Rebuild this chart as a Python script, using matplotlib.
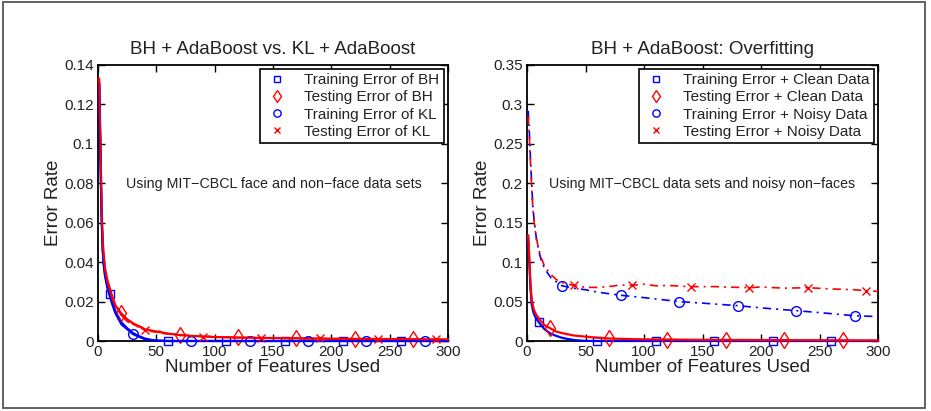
import matplotlib
matplotlib.use("Agg")
import matplotlib.pyplot as plt
from matplotlib.patches import Rectangle

plt.rcParams['font.family'] = ['Liberation Sans', 'DejaVu Sans']

# ---------------- Left panel data ----------------
left_title = "BH + AdaBoost vs. KL + AdaBoost"
left_note = "Using MIT\u2212CBCL face and non\u2212face data sets"
left_labels = ["Training Error of BH", "Testing Error of BH",
               "Training Error of KL", "Testing Error of KL"]

train_bh_x = [1, 2, 3, 4, 5, 6, 8, 10, 12, 15, 20, 25, 30, 35, 40, 45, 50, 60, 110, 160, 210, 260, 300]
train_bh_y = [.131, .098, .066, .047, .039, .034, .028, .024, .020, .015, .0095, .0065, .004, .0025,
              .0013, .0006, .0002, 0, 0, 0, 0, 0, 0]
train_bh_marks = [10, 60, 110, 160, 210, 260]

test_bh_x = [1, 2, 3, 4, 5, 6, 8, 10, 12, 15, 20, 25, 30, 35, 40, 50, 60, 70, 80, 100, 120, 150,
             170, 200, 220, 250, 270, 300]
test_bh_y = [.133, .104, .070, .051, .043, .037, .031, .027, .023, .018, .014, .011, .009, .0075,
             .006, .0048, .0038, .003, .0026, .002, .0018, .0015, .0014, .0012, .0011, .001, .0009, .0008]
test_bh_marks = [20, 70, 120, 170, 220, 270]

train_kl_x = [1, 2, 3, 4, 5, 6, 8, 10, 12, 15, 20, 25, 30, 35, 40, 45, 50, 60, 80, 130, 180, 230, 280, 300]
train_kl_y = [.130, .097, .064, .046, .038, .033, .027, .023, .019, .014, .0085, .006, .0035, .0022,
              .001, .0005, .0002, 0, 0, 0, 0, 0, 0, 0]
train_kl_marks = [30, 80, 130, 180, 230, 280]

test_kl_x = [1, 2, 3, 4, 5, 6, 8, 10, 12, 14, 16, 18, 20, 22, 24, 26, 28, 30, 32, 34,
             36, 38, 40, 43, 46, 50, 53, 56, 60, 65, 70, 75, 80, 85, 90, 95, 100, 110, 120, 130,
             140, 150, 160, 170, 180, 190, 200, 210, 220, 230, 240, 250, 260, 270, 280, 290, 300]
test_kl_y = [.133, .103, .069, .050, .042, .036, .030, .026, .022, .019,
             .017, .015, .013, .012, .0105, .0095, .010, .0085, .008, .0072,
             .0075, .0062, .0055, .0058, .0048, .0045, .0050, .0038, .0035, .0036,
             .0028, .0032, .0024, .0026, .0021, .0024, .0019, .0020, .0016, .0018,
             .0014, .0015, .0013, .0014, .0011, .0013, .0010, .0012, .0009, .0011,
             .0009, .0010, .0008, .0009, .0007, .0008, .0007]
test_kl_marks = [40, 90, 140, 190, 240, 290]

left_yticks = [0, 0.02, 0.04, 0.06, 0.08, 0.1, 0.12, 0.14]
left_yticklabels = ["0", "0.02", "0.04", "0.06", "0.08", "0.1", "0.12", "0.14"]

# ---------------- Right panel data ----------------
right_title = "BH + AdaBoost: Overfitting"
right_note = "Using MIT\u2212CBCL data sets and noisy non\u2212faces"
right_labels = ["Training Error + Clean Data", "Testing Error + Clean Data",
                "Training Error + Noisy Data", "Testing Error + Noisy Data"]

train_clean_x = [1, 2, 3, 4, 5, 6, 8, 10, 12, 15, 20, 25, 30, 35, 40, 45, 50, 60, 110, 160, 210, 260, 300]
train_clean_y = [.131, .098, .066, .047, .039, .034, .028, .024, .020, .015, .0095, .0065, .004, .0025,
                 .0013, .0006, .0002, 0, 0, 0, 0, 0, 0]
train_clean_marks = [10, 60, 110, 160, 210, 260]

test_clean_x = [1, 2, 3, 4, 5, 6, 8, 10, 12, 15, 20, 25, 30, 35, 40, 50, 60, 70, 80, 100, 120, 150,
                170, 200, 220, 250, 270, 300]
test_clean_y = [.134, .106, .072, .053, .045, .039, .033, .029, .025, .020, .016, .012, .010, .0085,
                .007, .0055, .0042, .0032, .0027, .0021, .0018, .0015, .0014, .0012, .0011, .001, .0009, .0008]
test_clean_marks = [20, 70, 120, 170, 220, 270]

train_noisy_x = [1, 2, 3, 4, 5, 6, 8, 10, 12, 15, 20, 25, 30, 40, 50, 60, 70, 80, 100, 130, 150,
                 180, 200, 230, 250, 280, 300]
train_noisy_y = [.292, .265, .23, .20, .17, .155, .13, .115, .103, .092, .081, .075, .070, .067, .065,
                 .062, .060, .058, .055, .050, .048, .0448, .042, .0385, .036, .032, .031]
train_noisy_marks = [30, 80, 130, 180, 230, 280]

test_noisy_x = [1, 2, 3, 4, 5, 6, 8, 10, 12, 15, 20, 25, 30, 35, 40, 50, 60, 70, 80, 90,
                100, 110, 120, 140, 160, 180, 190, 200, 220, 240, 260, 280, 290, 300]
test_noisy_y = [.285, .26, .225, .195, .168, .152, .13, .117, .106, .095,
                .085, .078, .074, .072, .0705, .068, .068, .069, .071, .0706,
                .072, .070, .0705, .0689, .069, .068, .0676, .0685, .067, .0676,
                .066, .065, .0638, .063]
test_noisy_marks = [40, 90, 140, 190, 240, 290]

right_yticks = [0, 0.05, 0.1, 0.15, 0.2, 0.25, 0.3, 0.35]
right_yticklabels = ["0", "0.05", "0.1", "0.15", "0.2", "0.25", "0.3", "0.35"]

xticks = [0, 50, 100, 150, 200, 250, 300]
xlabel = "Number of Features Used"
ylabel = "Error Rate"

BLUE = "#0000ff"
RED = "#ff0000"
TXT = "#222222"

W, H = 931, 411
fig = plt.figure(figsize=(W / 100, H / 100), dpi=100)
fig.patch.set_facecolor("white")

# outer frame
fig.add_artist(Rectangle((3 / W, 3 / H), 922 / W, 406 / H, transform=fig.transFigure,
                         fill=False, edgecolor="#555555", linewidth=1.3))

ax1 = fig.add_axes([98 / W, 1 - 341 / H, 350 / W, 276 / H])
ax2 = fig.add_axes([527 / W, 1 - 341 / H, 351 / W, 276 / H])


def idx(xs, marks):
    return [xs.index(m) for m in marks]


def series(ax, xs, ys, marks, color, ls, lw, marker, ms, label):
    ax.plot(xs, ys, color=color, ls=ls, lw=lw, marker=marker, ms=ms, mfc="none",
            mec=color, mew=1.0, markevery=idx(xs, marks), zorder=3, clip_on=False)
    # legend handle: marker only
    ax.plot([], [], color=color, ls="none", marker=marker, ms=ms, mfc="none", mec=color,
            mew=1.0, label=label)


DASHDOT = (0, (5, 3, 1.2, 3))

series(ax1, train_bh_x, train_bh_y, train_bh_marks, BLUE, "-", 1.6, "s", 6, left_labels[0])
series(ax1, test_bh_x, test_bh_y, test_bh_marks, RED, "-", 1.6, "d", 8.5, left_labels[1])
series(ax1, train_kl_x, train_kl_y, train_kl_marks, BLUE, "-", 1.6, "o", 7, left_labels[2])
series(ax1, test_kl_x, test_kl_y, test_kl_marks, RED, "-", 1.2, "x", 5.5, left_labels[3])

series(ax2, train_clean_x, train_clean_y, train_clean_marks, BLUE, "-", 1.6, "s", 6, right_labels[0])
series(ax2, test_clean_x, test_clean_y, test_clean_marks, RED, "-", 1.6, "d", 8.5, right_labels[1])
series(ax2, train_noisy_x, train_noisy_y, train_noisy_marks, BLUE, DASHDOT, 1.2, "o", 7, right_labels[2])
series(ax2, test_noisy_x, test_noisy_y, test_noisy_marks, RED, DASHDOT, 1.2, "x", 5.5, right_labels[3])

for ax, yt, ytl, ttl, note, ymax, nx, ny, nfs in [
        (ax1, left_yticks, left_yticklabels, left_title, left_note, 0.14, 24, 0.0795, 10.3),
        (ax2, right_yticks, right_yticklabels, right_title, right_note, 0.35, 19, 0.199, 10.2)]:
    ax.set_xlim(0, 300)
    ax.set_ylim(0, ymax)
    ax.set_xticks(xticks)
    ax.set_xticklabels([str(v) for v in xticks])
    ax.set_yticks(yt)
    ax.set_yticklabels(ytl)
    ax.tick_params(direction="in", length=5, width=1.0, top=True, right=True,
                   labelsize=11, colors="black", labelcolor=TXT, pad=3)
    for s in ax.spines.values():
        s.set_linewidth(1.3)
        s.set_color("black")
        s.set_zorder(2.5)
    ax.set_title(ttl, fontsize=13.5, color=TXT, pad=8)
    ax.set_xlabel(xlabel, fontsize=13.5, color=TXT, labelpad=0)
    ax.set_ylabel(ylabel, fontsize=13.5, color=TXT, labelpad=1.5)
    ax.text(nx, ny, note, fontsize=nfs, color=TXT, ha="left", va="center")
    leg = ax.legend(loc="upper right", fontsize=11, frameon=True, fancybox=False,
                    framealpha=1, edgecolor="black", labelspacing=0.2, borderpad=0.3,
                    handlelength=1.6, handletextpad=1.0, borderaxespad=0.25,
                    markerscale=0.75)
    leg.get_frame().set_linewidth(1.2)
    leg.set_zorder(5)
    for t in leg.get_texts():
        t.set_color(TXT)

fig.savefig("out.png", dpi=100)
